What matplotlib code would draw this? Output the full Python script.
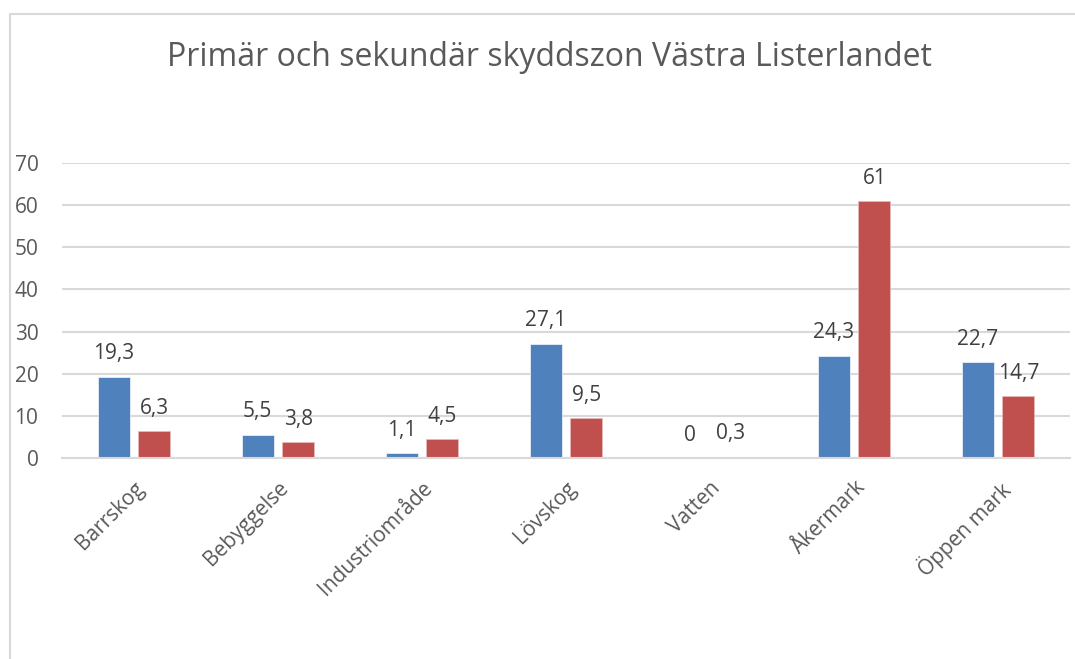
import matplotlib
matplotlib.use('Agg')
import matplotlib.pyplot as plt
import numpy as np
from matplotlib.patches import Rectangle

categories = ['Barrskog', 'Bebyggelse', 'Industriområde', 'Lövskog', 'Vatten', 'Åkermark', 'Öppen mark']
primar = [19.3, 5.5, 1.1, 27.1, 0, 24.3, 22.7]
sekundar = [6.3, 3.8, 4.5, 9.5, 0.3, 61, 14.7]
yticks = [0, 10, 20, 30, 40, 50, 60, 70]

plt.rcParams['font.family'] = ['Open Sans', 'DejaVu Sans']

fig = plt.figure(figsize=[10.75, 6.59], dpi=100)
ax = fig.add_axes([62 / 1075, 1 - 458 / 659, 1008 / 1075, 295 / 659])

# chart border (cut off on right and bottom like the screenshot)
fig.patches.append(Rectangle((10 / 1075, -0.05), 1.1, 1 - 14 / 659 + 0.05,
                             transform=fig.transFigure, fill=False,
                             edgecolor='#d9d9d9', linewidth=1.5))

x = np.arange(len(categories))
w = 0.222
off = 0.142
b1 = ax.bar(x - off, primar, w, color='#4f81bd', edgecolor='#e6eef7', linewidth=0.6)
b2 = ax.bar(x + off, sekundar, w, color='#c0504d', edgecolor='#e6b9b8', linewidth=0.6)

def fmt(v):
    s = ('%g' % v).replace('.', ',')
    return s

for bars, vals in [(b1, primar), (b2, sekundar)]:
    for rect, v in zip(bars, vals):
        ax.annotate(fmt(v), (rect.get_x() + rect.get_width() / 2, v),
                    xytext=(0, 12.5), textcoords='offset points',
                    ha='center', va='baseline', fontsize=15, color='#404040')

ax.set_xlim(-0.5, len(categories) - 0.5)
ax.set_ylim(0, 70)
ax.set_yticks(yticks)
ax.set_yticklabels([str(t) for t in yticks])
ax.yaxis.grid(True, color='#d9d9d9', linewidth=1.5)
ax.set_axisbelow(True)
for s in ['top', 'right', 'left']:
    ax.spines[s].set_visible(False)
ax.spines['bottom'].set_color('#d9d9d9')
ax.spines['bottom'].set_linewidth(1.5)
ax.tick_params(axis='y', length=0, pad=17, labelsize=15, labelcolor='#595959')
ax.tick_params(axis='x', length=0, pad=14, labelsize=15, labelcolor='#595959')
ax.set_xticks(x)
ax.set_xticklabels(categories, rotation=45, ha='right', rotation_mode='anchor')

fig.text(549 / 1075, 1 - 58 / 659, 'Primär och sekundär skyddszon Västra Listerlandet',
         ha='center', va='center', fontsize=23, color='#595959')

plt.savefig('out.png', dpi=100)
plt.close()
